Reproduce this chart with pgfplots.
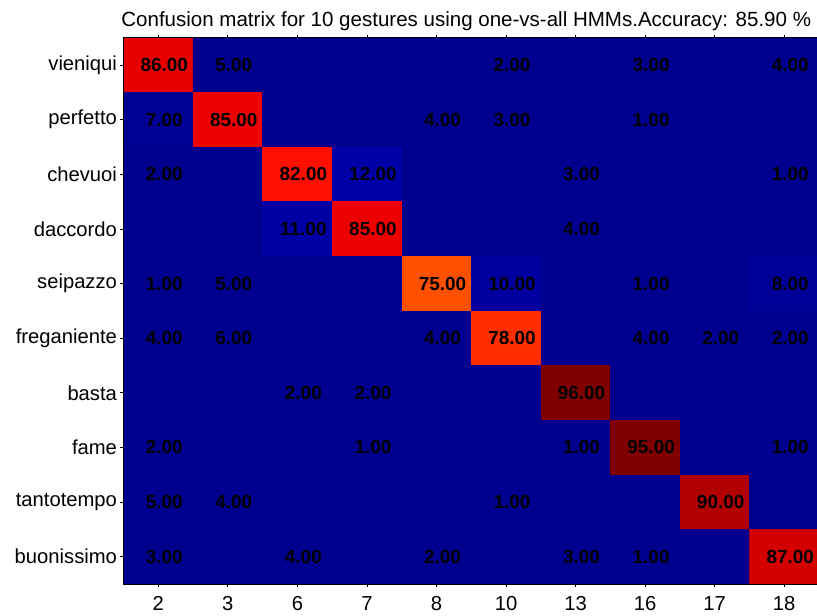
\documentclass[border=0pt]{standalone}
\usepackage{pgfplots}
\usepackage{pgfplotstable}
\pgfplotsset{compat=1.18}
\usepackage{fontspec}
\setmainfont{Liberation Sans}

% full 10x10 confusion matrix (row = true gesture, column = predicted class), in percent
\pgfplotstableread{
x y c
0 0 86
1 0 5
2 0 0
3 0 0
4 0 0
5 0 2
6 0 0
7 0 3
8 0 0
9 0 4
0 1 7
1 1 85
2 1 0
3 1 0
4 1 4
5 1 3
6 1 0
7 1 1
8 1 0
9 1 0
0 2 2
1 2 0
2 2 82
3 2 12
4 2 0
5 2 0
6 2 3
7 2 0
8 2 0
9 2 1
0 3 0
1 3 0
2 3 11
3 3 85
4 3 0
5 3 0
6 3 4
7 3 0
8 3 0
9 3 0
0 4 1
1 4 5
2 4 0
3 4 0
4 4 75
5 4 10
6 4 0
7 4 1
8 4 0
9 4 8
0 5 4
1 5 6
2 5 0
3 5 0
4 5 4
5 5 78
6 5 0
7 5 4
8 5 2
9 5 2
0 6 0
1 6 0
2 6 2
3 6 2
4 6 0
5 6 0
6 6 96
7 6 0
8 6 0
9 6 0
0 7 2
1 7 0
2 7 0
3 7 1
4 7 0
5 7 0
6 7 1
7 7 95
8 7 0
9 7 1
0 8 5
1 8 4
2 8 0
3 8 0
4 8 0
5 8 1
6 8 0
7 8 0
8 8 90
9 8 0
0 9 3
1 9 0
2 9 4
3 9 0
4 9 2
5 9 0
6 9 3
7 9 1
8 9 0
9 9 87
}\confmat

% non-zero entries, written into their cells
\pgfplotstableread{
x y v
0 0 86
1 0 5
5 0 2
7 0 3
9 0 4
0 1 7
1 1 85
4 1 4
5 1 3
7 1 1
0 2 2
2 2 82
3 2 12
6 2 3
9 2 1
2 3 11
3 3 85
6 3 4
0 4 1
1 4 5
4 4 75
5 4 10
7 4 1
9 4 8
0 5 4
1 5 6
4 5 4
5 5 78
7 5 4
8 5 2
9 5 2
2 6 2
3 6 2
6 6 96
0 7 2
3 7 1
6 7 1
7 7 95
9 7 1
0 8 5
1 8 4
5 8 1
8 8 90
0 9 3
2 9 4
4 9 2
6 9 3
7 9 1
9 9 87
}\conflabels

\pgfplotsset{
  colormap={confjet}{
    rgb255(0pt)=(0,0,143)
    rgb255(6pt)=(0,0,143)
    rgb255(12pt)=(0,0,168)
    rgb255(75pt)=(255,80,0)
    rgb255(78pt)=(255,45,0)
    rgb255(82pt)=(255,15,0)
    rgb255(85pt)=(236,0,0)
    rgb255(86pt)=(232,0,0)
    rgb255(87pt)=(212,0,0)
    rgb255(90pt)=(178,0,0)
    rgb255(95pt)=(128,0,0)
    rgb255(96pt)=(128,0,0)
  }
}
\definecolor{cellbase}{RGB}{0,0,143}

\begin{document}
\begin{tikzpicture}
\useasboundingbox (0,0) rectangle (817bp,616bp);
\begin{axis}[
  at={(123.5bp,32bp)}, anchor=south west,
  scale only axis, width=695.5bp, height=546.3bp,
  xmin=-0.5, xmax=9.5, ymin=-0.5, ymax=9.5,
  y dir=reverse,
  axis background/.style={fill=cellbase},
  colormap name=confjet,
  point meta min=0, point meta max=96,
  xtick={0,...,9},
  xticklabels={2,3,6,7,8,10,13,16,17,18},
  ytick={0,...,9},
  yticklabels={vieniqui,perfetto,chevuoi,daccordo,seipazzo,freganiente,basta,fame,tantotempo,buonissimo},
  tick align=outside,
  major tick length=3bp,
  tick style={black, line width=0.8bp},
  axis line style={black, line width=0.9bp},
  ticklabel style={font=\fontsize{20.3}{22}\selectfont},
  xticklabel style={yshift=-6bp},
  /pgf/number format/assume math mode=true,
  title={Confusion matrix for 10 gestures using one-vs-all HMMs.Accuracy: 85.90 \%},
  title style={font=\fontsize{20.6}{22}\selectfont, xshift=-5bp, yshift=-3bp},
  axis on top,
]
\addplot [matrix plot, mesh/cols=10, point meta=explicit]
  table [x=x, y=y, meta=c] {\confmat};
\addplot [draw=none, mark=none, point meta=explicit,
  nodes near coords={\pgfmathprintnumber[fixed,fixed zerofill,precision=2]{\pgfplotspointmeta}},
  every node near coord/.append style={black, anchor=center, xshift=6bp,
    font=\bfseries\fontsize{19}{21}\selectfont}]
  table [x=x, y=y, meta=v] {\conflabels};
\end{axis}
\end{tikzpicture}
\end{document}
